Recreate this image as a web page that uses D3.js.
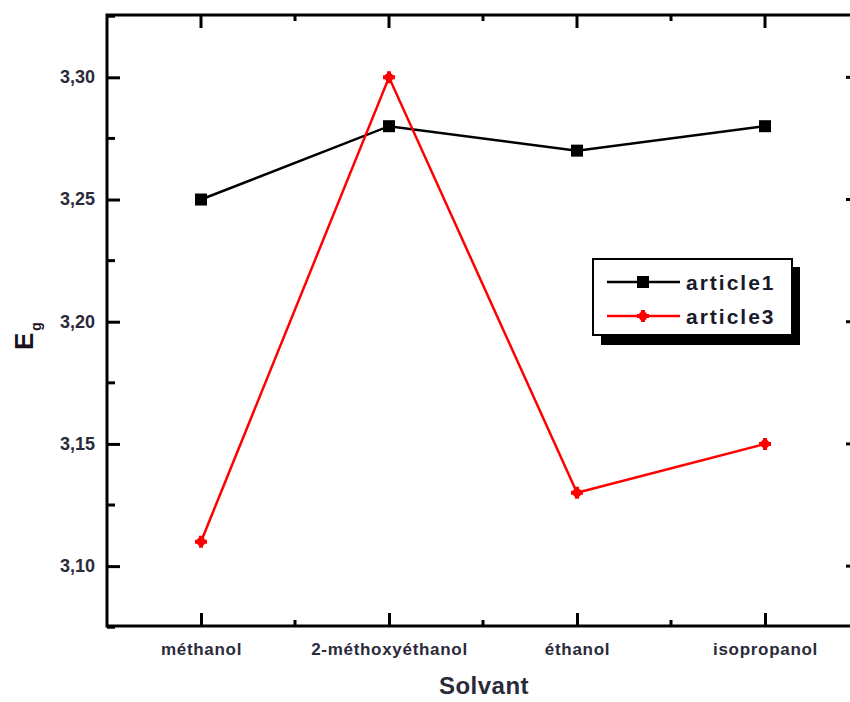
<!DOCTYPE html>
<html>
<head>
<meta charset="utf-8">
<script src="https://cdn.jsdelivr.net/npm/d3@7"></script>
<style>
  html, body { margin: 0; padding: 0; background: #fff; overflow: hidden; }
</style>
</head>
<body>
<div id="chart"></div>
<script>
const categories = ['méthanol', '2-méthoxyéthanol', 'éthanol', 'isopropanol'];
const article1 = [3.25, 3.28, 3.27, 3.28];
const article3 = [3.11, 3.30, 3.13, 3.15];
const yTicks = [3.10, 3.15, 3.20, 3.25, 3.30];
const seriesNames = ['article1', 'article3'];

(function () {
const totalW = 850, totalH = 702;
const pL = 107, pT = 15, pR = 859, pB = 626;

const svg = d3.select('#chart').append('svg')
  .attr('width', totalW).attr('height', totalH);

const x = d3.scaleLinear().domain([-0.5, categories.length - 0.5]).range([pL, pR]);
const y = d3.scaleLinear().domain([3.0755, 3.3255]).range([pB, pT]);

const font = "'Liberation Sans', Arial, sans-serif";
const textCol = '#2a2a3a';

// minor ticks
const yMinor = d3.range(3.075, 3.326, 0.025).map(v => +v.toFixed(3)).filter(v => !yTicks.some(t => Math.abs(t - v) < 1e-6));
const xMinor = d3.range(0, categories.length - 1).map(i => i + 0.5);

// left axis
const yAxisL = svg.append('g').attr('transform', `translate(${pL},0)`)
  .call(d3.axisRight(y).tickValues(yTicks).tickSize(13).tickFormat(d => d3.format('.2f')(d).replace('.', ',')));
yAxisL.select('.domain').remove();
yAxisL.attr('font-size', null).attr('font-family', null);
yAxisL.selectAll('line').attr('stroke', '#000').attr('stroke-width', 3);
yAxisL.selectAll('text').attr('x', -12).attr('dy', '0.3em').attr('text-anchor', 'end')
  .style('font-family', font).style('font-weight', 'bold').style('font-size', '18px').attr('fill', textCol);
svg.append('g').selectAll('line').data(yMinor).join('line')
  .attr('x1', pL).attr('x2', pL + 8).attr('y1', d => y(d)).attr('y2', d => y(d))
  .attr('stroke', '#000').attr('stroke-width', 3);

// right axis ticks
svg.append('g').selectAll('line').data(yTicks).join('line')
  .attr('x1', pR - 13).attr('x2', pR).attr('y1', d => y(d)).attr('y2', d => y(d))
  .attr('stroke', '#000').attr('stroke-width', 3);

// bottom axis
const xAxisB = svg.append('g').attr('transform', `translate(0,${pB})`)
  .call(d3.axisTop(x).tickValues(d3.range(categories.length)).tickSize(13).tickFormat(i => categories[i]));
xAxisB.select('.domain').remove();
xAxisB.attr('font-size', null).attr('font-family', null);
xAxisB.selectAll('line').attr('stroke', '#000').attr('stroke-width', 3);
xAxisB.selectAll('text').attr('y', 29).attr('dy', 0)
  .style('font-family', font).style('font-weight', 'bold').style('font-size', '17px')
  .style('letter-spacing', '0.7px').attr('fill', textCol);
svg.append('g').selectAll('line').data(xMinor).join('line')
  .attr('x1', d => x(d)).attr('x2', d => x(d)).attr('y1', pB).attr('y2', pB - 6)
  .attr('stroke', '#000').attr('stroke-width', 3);

// top axis ticks
svg.append('g').selectAll('line').data(d3.range(categories.length)).join('line')
  .attr('x1', d => x(d)).attr('x2', d => x(d)).attr('y1', pT).attr('y2', pT + 13)
  .attr('stroke', '#000').attr('stroke-width', 3);
svg.append('g').selectAll('line').data(xMinor).join('line')
  .attr('x1', d => x(d)).attr('x2', d => x(d)).attr('y1', pT).attr('y2', pT + 6)
  .attr('stroke', '#000').attr('stroke-width', 3);

// frame
svg.append('rect').attr('x', pL).attr('y', pT)
  .attr('width', pR - pL).attr('height', pB - pT)
  .attr('fill', 'none').attr('stroke', '#000').attr('stroke-width', 3);

// titles
svg.append('text').attr('x', 484).attr('y', 694)
  .attr('text-anchor', 'middle').style('font-family', font).style('font-weight', 'bold')
  .style('font-size', '24px').style('letter-spacing', '0.5px').attr('fill', textCol).text('Solvant');
const yt = svg.append('text').attr('transform', `translate(33,350) rotate(-90)`)
  .attr('text-anchor', 'start').style('font-family', font).style('font-weight', 'bold')
  .style('font-size', '26px').attr('fill', '#1a1020');
yt.append('tspan').text('E');
yt.append('tspan').style('font-size', '14px').attr('dx', 2).attr('dy', 8).text('g');

// series
const series = [
  { name: seriesNames[0], values: article1, color: '#000000', marker: 'square' },
  { name: seriesNames[1], values: article3, color: '#ff0000', marker: 'circle' }
];
const line = d3.line().x((d, i) => x(i)).y(d => y(d));

function drawMarker(g, type, color, cx, cy) {
  if (type === 'square') {
    g.append('rect').attr('x', cx - 6).attr('y', cy - 6).attr('width', 12).attr('height', 12).attr('fill', color);
  } else {
    g.append('path').attr('d', d3.symbol(d3.symbolCross, 80)()).attr('transform', `translate(${cx},${cy})`).attr('fill', color);
    g.append('circle').attr('cx', cx).attr('cy', cy).attr('r', 4.5).attr('fill', color);
  }
}

series.forEach(s => {
  svg.append('path').datum(s.values).attr('d', line)
    .attr('fill', 'none').attr('stroke', s.color).attr('stroke-width', 2.5);
  const g = svg.append('g');
  s.values.forEach((v, i) => drawMarker(g, s.marker, s.color, x(i), y(v)));
});

// legend
const lg = svg.append('g').attr('transform', 'translate(593,259)');
lg.append('rect').attr('x', 8).attr('y', 8).attr('width', 199).attr('height', 78).attr('fill', '#000');
lg.append('rect').attr('x', 0).attr('y', 0).attr('width', 199).attr('height', 76)
  .attr('fill', '#fff').attr('stroke', '#000').attr('stroke-width', 2);
series.forEach((s, i) => {
  const cy = 23 + i * 34;
  lg.append('line').attr('x1', 14).attr('x2', 87).attr('y1', cy).attr('y2', cy)
    .attr('stroke', s.color).attr('stroke-width', 2.5);
  drawMarker(lg, s.marker, s.color, 50, cy);
  lg.append('text').attr('x', 93).attr('y', cy + 8)
    .style('font-family', font).style('font-weight', 'bold').style('font-size', '21px')
    .style('letter-spacing', '2px').attr('fill', '#1a1a2a').text(s.name);
});
})();
</script>
</body>
</html>
